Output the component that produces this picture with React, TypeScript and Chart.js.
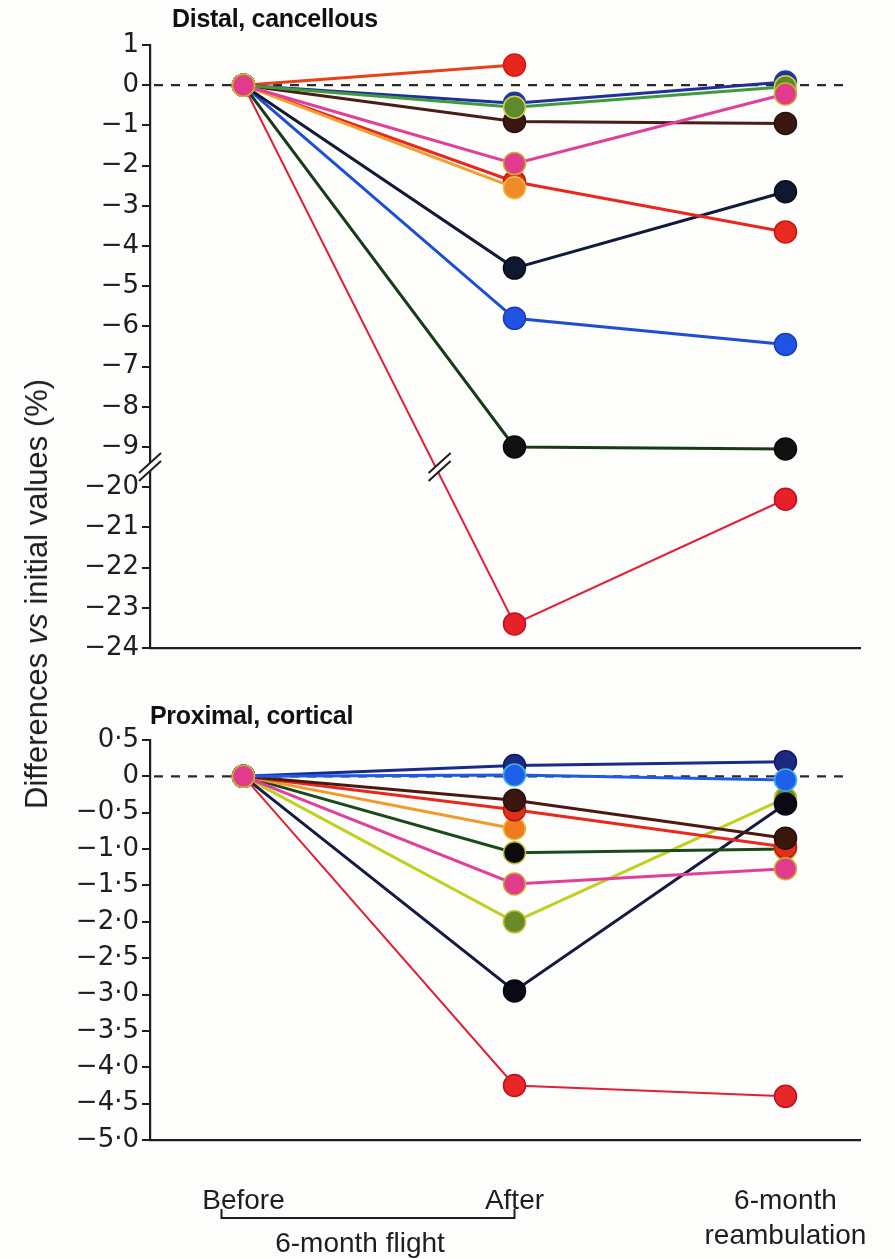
import React, { useEffect, useRef } from "react";
import { Chart, registerables } from "chart.js";

Chart.register(...registerables);

// ---------- categories / tick labels ----------
const categories = ["Before", "After", "6-month reambulation"];
const xTickLabels: string[][] = [["Before"], ["After"], ["6-month", "reambulation"]];
const bracketLabel = "6-month flight";
const yAxisTitle = ["Differences ", "vs", " initial values (%)"];
const distalTitle = "Distal, cancellous";
const proximalTitle = "Proximal, cortical";

// Distal, cancellous: broken axis (1 … −9 // −20 … −24)
const distalTicks = [1, 0, -1, -2, -3, -4, -5, -6, -7, -8, -9, -20, -21, -22, -23, -24];
const distalPink = [0, -1.95, -0.22];
const distalOrange = [0, -2.55, null];
const distalOlive = [0, -0.55, -0.04];
const distalDarkBlue = [0, -0.45, 0.08];
const distalBrown = [0, -0.9, -0.95];
const distalRedOrange = [0, 0.5, null];
const distalRed = [0, -2.4, -3.65];
const distalNavy = [0, -4.55, -2.65];
const distalBlue = [0, -5.8, -6.45];
const distalBlackGreen = [0, -9.0, -9.05];
const distalCrimson = [0, -23.4, -20.3];

// Proximal, cortical
const proximalTicks = [0.5, 0, -0.5, -1, -1.5, -2, -2.5, -3, -3.5, -4, -4.5, -5];
const proximalPink = [0, -1.48, -1.27];
const proximalBlue = [0, 0.02, -0.05];
const proximalDarkBlue = [0, 0.15, 0.2];
const proximalBrown = [0, -0.33, -0.85];
const proximalRed = [0, -0.46, -0.97];
const proximalOrange = [0, -0.72, null];
const proximalBlackGreen = [0, -1.05, -1.0];
const proximalOlive = [0, -2.0, -0.3];
const proximalNavy = [0, -2.95, -0.38];
const proximalCrimson = [0, -4.25, -4.4];

// ---------- styles ----------
type Series = { name: string; values: (number | null)[]; line: string; fill: string; edge: string; width?: number };

const distalSeries: Series[] = [
  { name: "pink", values: distalPink, line: "#e0409a", fill: "#e23a8c", edge: "#c9b030" },
  { name: "orange", values: distalOrange, line: "#f0a030", fill: "#f08a2a", edge: "#e8c040" },
  { name: "olive", values: distalOlive, line: "#3f9a3a", fill: "#5c8a2c", edge: "#d8d040" },
  { name: "darkblue", values: distalDarkBlue, line: "#1f2fa0", fill: "#24308f", edge: "#2040b0" },
  { name: "brown", values: distalBrown, line: "#4a1e18", fill: "#3b1712", edge: "#2a100c" },
  { name: "redorange", values: distalRedOrange, line: "#e8401a", fill: "#e8251c", edge: "#d01a10" },
  { name: "red", values: distalRed, line: "#e8281e", fill: "#ea2a1e", edge: "#c01a10" },
  { name: "navy", values: distalNavy, line: "#111a3a", fill: "#101830", edge: "#080c18" },
  { name: "blue", values: distalBlue, line: "#1d4fd6", fill: "#2052e4", edge: "#1a40b0" },
  { name: "blackgreen", values: distalBlackGreen, line: "#183a18", fill: "#111111", edge: "#0a0a0a" },
  { name: "crimson", values: distalCrimson, line: "#e0203a", fill: "#e8202a", edge: "#c01020", width: 2 },
];

const proximalSeries: Series[] = [
  { name: "pink", values: proximalPink, line: "#e0409a", fill: "#e23a8c", edge: "#c9b030" },
  { name: "blue", values: proximalBlue, line: "#1e5ae8", fill: "#1e60e8", edge: "#40b0e0" },
  { name: "darkblue", values: proximalDarkBlue, line: "#1a2a8c", fill: "#1c2a80", edge: "#10186a" },
  { name: "brown", values: proximalBrown, line: "#4a1a12", fill: "#3a1810", edge: "#2a100c" },
  { name: "red", values: proximalRed, line: "#e8281c", fill: "#e03018", edge: "#c01a10" },
  { name: "orange", values: proximalOrange, line: "#f09a28", fill: "#f07a20", edge: "#e8c040" },
  { name: "blackgreen", values: proximalBlackGreen, line: "#1a4a1a", fill: "#0c0c0c", edge: "#c0c040" },
  { name: "navy", values: proximalNavy, line: "#141a40", fill: "#0a0a14", edge: "#080810" },
  { name: "olive", values: proximalOlive, line: "#c0d020", fill: "#6a8a28", edge: "#c0c030" },
  { name: "crimson", values: proximalCrimson, line: "#e0203a", fill: "#e82828", edge: "#c01020", width: 2 },
];

// broken-axis mapping for the distal panel
const toBroken = (v: number) => (v >= -9.5 ? v : v + 10);
const fromBroken = (a: number) => (a >= -9.5 ? a : a - 10);

const MINUS = "\u2212";
const fmtDistal = (v: number) => (v < 0 ? MINUS + Math.abs(v) : String(v));
const fmtProximal = (v: number) =>
  v === 0 ? "0" : (v < 0 ? MINUS : "") + Math.abs(v).toFixed(1).replace(".", "\u00b7");

const TICK_FONT = { family: "'DejaVu Sans', sans-serif", size: 26 };
const LABEL_FONT = "'Liberation Sans', Arial, sans-serif";
const INK = "#1e1e1e";

function makeDatasets(series: Series[], map: (v: number) => number) {
  return series.map((s) => ({
    label: s.name,
    data: s.values
      .map((v, i) => (v === null ? null : { x: i, y: map(v) }))
      .filter((p) => p !== null),
    borderColor: s.line,
    borderWidth: s.width ?? 3,
    backgroundColor: s.fill,
    pointBackgroundColor: s.fill,
    pointBorderColor: s.edge,
    pointBorderWidth: 1.5,
    pointRadius: 11,
    pointHoverRadius: 11,
    tension: 0,
    clip: false as const,
  }));
}

const zeroLinePlugin = {
  id: "zeroLine",
  beforeDatasetsDraw(chart: any) {
    const { ctx, scales, chartArea } = chart;
    const y = scales.y.getPixelForValue(0);
    const xEnd = scales.x.getPixelForValue(2.22);
    ctx.save();
    ctx.strokeStyle = "#2a2a2a";
    ctx.lineWidth = 2.2;
    ctx.setLineDash([9, 8]);
    ctx.beginPath();
    ctx.moveTo(chartArea.left + 4, y);
    ctx.lineTo(xEnd, y);
    ctx.stroke();
    ctx.restore();
  },
};

function drawBreak(ctx: CanvasRenderingContext2D, cx: number, cy: number, color: string) {
  const dx = 11, dy = 10, g = 4;
  ctx.save();
  ctx.fillStyle = "#fdfdfb";
  ctx.beginPath();
  ctx.moveTo(cx - dx, cy - g + dy);
  ctx.lineTo(cx + dx, cy - g - dy);
  ctx.lineTo(cx + dx, cy + g - dy);
  ctx.lineTo(cx - dx, cy + g + dy);
  ctx.closePath();
  ctx.fill();
  ctx.strokeStyle = color;
  ctx.lineWidth = 2;
  for (const o of [-g, g]) {
    ctx.beginPath();
    ctx.moveTo(cx - dx, cy + o + dy);
    ctx.lineTo(cx + dx, cy + o - dy);
    ctx.stroke();
  }
  ctx.restore();
}

const breakPlugin = {
  id: "axisBreak",
  afterDatasetsDraw(chart: any) {
    const { ctx, scales, chartArea } = chart;
    const yb = scales.y.getPixelForValue(-9.5);
    drawBreak(ctx, chartArea.left, yb, INK);
    const idx = distalSeries.findIndex((s) => s.name === "crimson");
    const meta = chart.getDatasetMeta(idx);
    const p0 = meta.data[0], p1 = meta.data[1];
    if (p0 && p1) {
      const t = (yb - p0.y) / (p1.y - p0.y);
      const xl = p0.x + t * (p1.x - p0.x);
      drawBreak(ctx, xl + 4, yb, INK);
    }
  },
};

const bracketPlugin = {
  id: "bracket",
  afterDraw(chart: any) {
    const { ctx, scales, chartArea } = chart;
    const x0 = scales.x.getPixelForValue(0) - 22;
    const x1 = scales.x.getPixelForValue(1);
    const yb = chartArea.bottom + 78;
    ctx.save();
    ctx.strokeStyle = INK;
    ctx.lineWidth = 2;
    ctx.beginPath();
    ctx.moveTo(x0, yb - 9);
    ctx.lineTo(x0, yb);
    ctx.lineTo(x1, yb);
    ctx.lineTo(x1, yb - 9);
    ctx.stroke();
    ctx.fillStyle = INK;
    ctx.font = `28px ${LABEL_FONT}`;
    ctx.textAlign = "center";
    ctx.textBaseline = "middle";
    ctx.fillText(bracketLabel, (x0 + x1) / 2 - 8, yb + 26);
    ctx.restore();
  },
};

function xScale(showLabels: boolean, height: number) {
  return {
    type: "linear" as const,
    min: -0.345,
    max: 2.275,
    afterBuildTicks: (s: any) => {
      s.ticks = categories.map((_, i) => ({ value: i }));
    },
    afterFit: (s: any) => {
      s.height = height;
      s.paddingLeft = 0;
      s.paddingRight = 0;
    },
    grid: { display: false },
    border: { display: true, color: INK, width: 2.2 },
    ticks: {
      display: showLabels,
      padding: 36,
      color: INK,
      font: { family: LABEL_FONT, size: 28, lineHeight: 1.25 },
      maxRotation: 0,
      autoSkip: false,
      callback: (v: any) => xTickLabels[Number(v)] ?? "",
    },
  };
}

function yScale(min: number, max: number, tickVals: number[], fmt: (a: number) => string) {
  return {
    type: "linear" as const,
    min,
    max,
    afterBuildTicks: (s: any) => {
      s.ticks = tickVals.map((v) => ({ value: v }));
    },
    afterFit: (s: any) => {
      s.width = 150;
      s.paddingTop = 0;
      s.paddingBottom = 0;
    },
    grid: {
      display: true,
      drawOnChartArea: false,
      drawTicks: true,
      tickLength: 8,
      color: INK,
      lineWidth: 2,
    },
    border: { display: true, color: INK, width: 2.2 },
    ticks: {
      padding: 3,
      color: INK,
      font: TICK_FONT,
      autoSkip: false,
      callback: (v: any) => fmt(Number(v)),
    },
  };
}

const baseOptions = {
  responsive: false,
  maintainAspectRatio: false,
  animation: false as const,
  events: [] as any[],
  plugins: { legend: { display: false }, tooltip: { enabled: false } },
};

export default function App() {
  const topRef = useRef<HTMLCanvasElement>(null);
  const botRef = useRef<HTMLCanvasElement>(null);

  useEffect(() => {
    if (!topRef.current || !botRef.current) return;
    const top = new Chart(topRef.current, {
      type: "line",
      data: { datasets: makeDatasets(distalSeries, toBroken) as any },
      options: {
        ...baseOptions,
        layout: { padding: { top: 45, right: 35, left: 0, bottom: 0 } },
        scales: {
          x: xScale(false, 17),
          y: yScale(
            toBroken(-24),
            1,
            distalTicks.map(toBroken),
            (a) => fmtDistal(fromBroken(a))
          ),
        },
      } as any,
      plugins: [zeroLinePlugin, breakPlugin],
    });
    const bot = new Chart(botRef.current, {
      type: "line",
      data: { datasets: makeDatasets(proximalSeries, (v) => v) as any },
      options: {
        ...baseOptions,
        layout: { padding: { top: 50, right: 35, left: 0, bottom: 0 } },
        scales: {
          x: xScale(true, 119),
          y: yScale(-5, 0.5, proximalTicks, fmtProximal),
        },
      } as any,
      plugins: [zeroLinePlugin, bracketPlugin],
    });
    return () => {
      top.destroy();
      bot.destroy();
    };
  }, []);

  const titleStyle: React.CSSProperties = {
    position: "absolute",
    fontFamily: LABEL_FONT,
    fontWeight: 700,
    fontSize: 25,
    lineHeight: "25px",
    color: "#111",
    whiteSpace: "nowrap",
    letterSpacing: "-0.3px",
  };

  return (
    <div
      style={{
        position: "absolute",
        left: 0,
        top: 0,
        width: 895,
        height: 1259,
        background: "#fdfdfb",
        overflow: "hidden",
      }}
    >
      <canvas ref={topRef} width={895} height={665} style={{ position: "absolute", left: 0, top: 0 }} />
      <canvas ref={botRef} width={895} height={569} style={{ position: "absolute", left: 0, top: 690 }} />
      <div style={{ ...titleStyle, left: 172, top: 6 }}>{distalTitle}</div>
      <div style={{ ...titleStyle, left: 150, top: 703 }}>{proximalTitle}</div>
      <div
        style={{
          position: "absolute",
          left: 37,
          top: 594,
          transform: "translate(-50%, -50%) rotate(-90deg)",
          fontFamily: LABEL_FONT,
          fontSize: 31,
          color: INK,
          whiteSpace: "nowrap",
        }}
      >
        {yAxisTitle[0]}
        <i>{yAxisTitle[1]}</i>
        {yAxisTitle[2]}
      </div>
    </div>
  );
}
